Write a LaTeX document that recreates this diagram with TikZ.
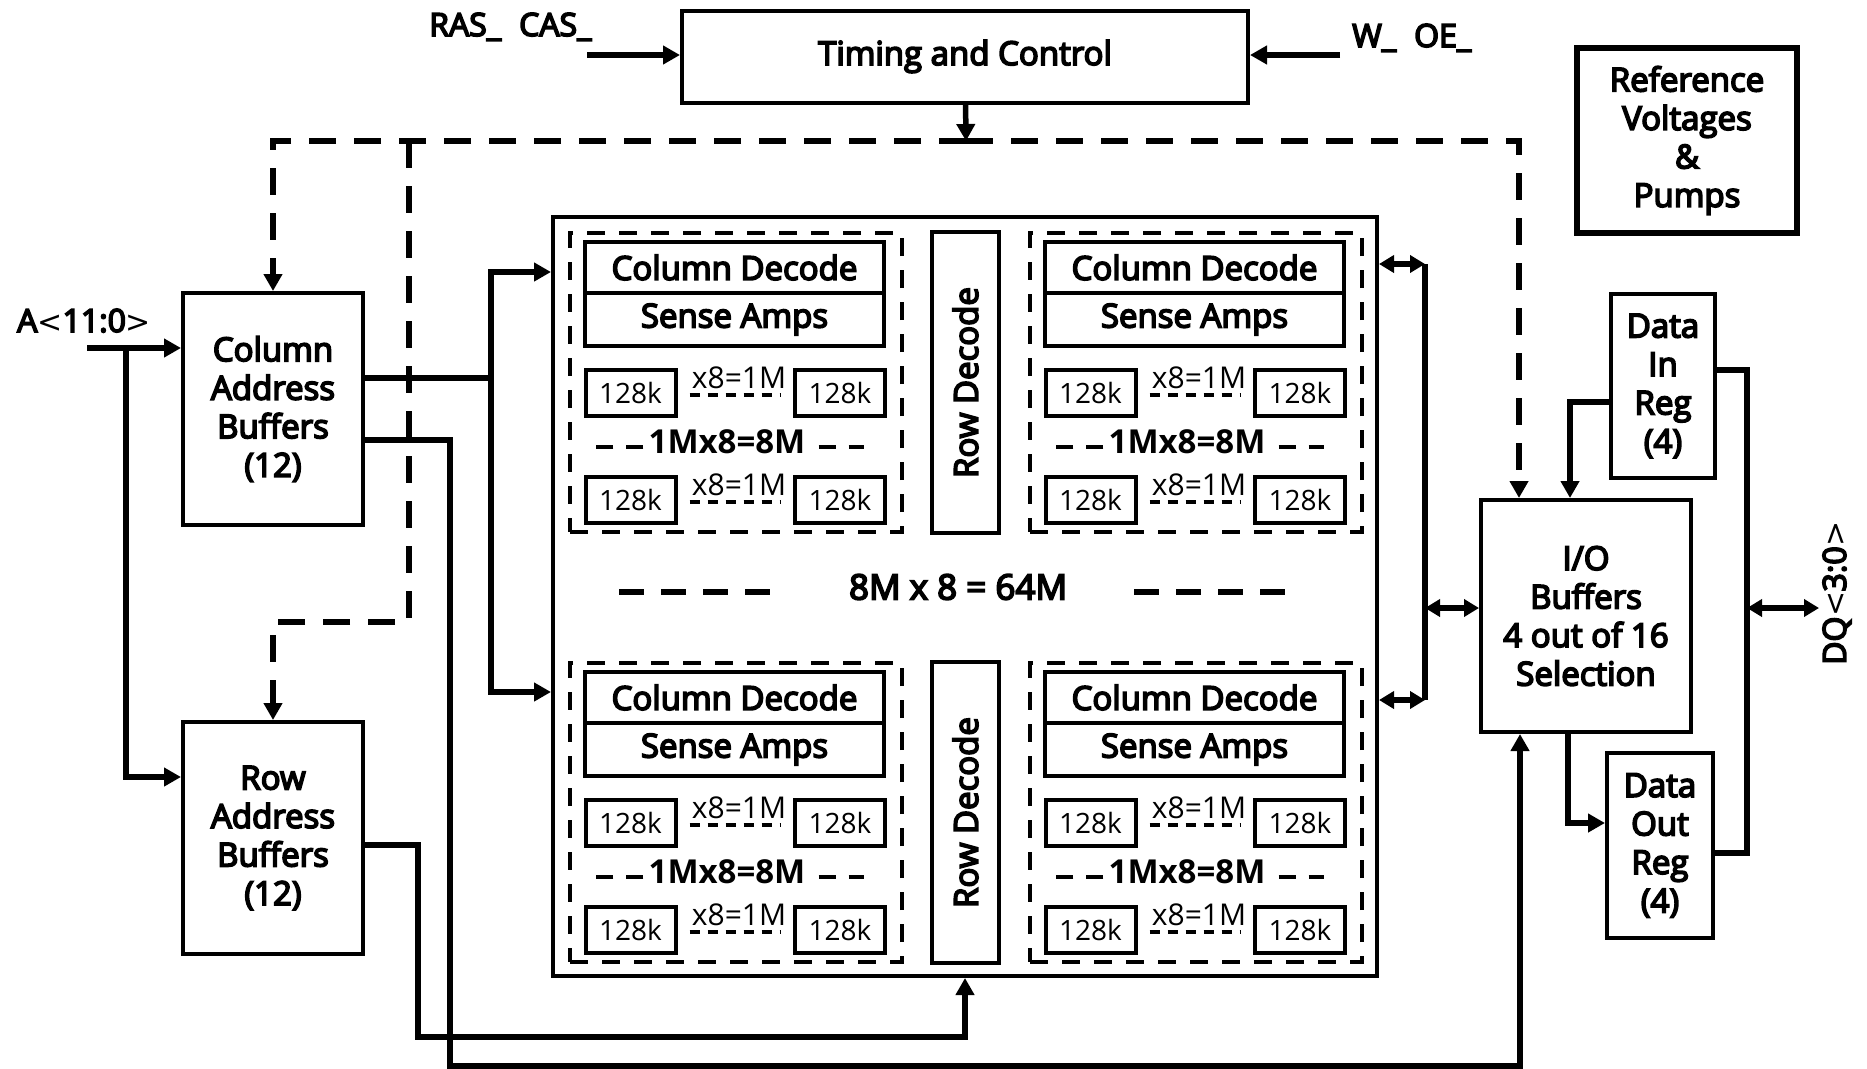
\documentclass[tikz,border=0pt]{standalone}
\usepackage{fontspec}
\setmainfont{Open Sans}
\newfontfamily\medsans{Open Sans}[FakeBold=5]
\newfontfamily\symsans{DejaVu Sans}
\usetikzlibrary{arrows.meta,positioning,calc}
\newcommand{\blkfont}{\medsans\fontsize{33}{38.5}\selectfont}
\newcommand{\sigfont}{\medsans\fontsize{32}{36}\selectfont}
\newcommand{\cellfont}{\fontsize{28}{32}\selectfont}
\newcommand{\tinyfont}{\fontsize{30}{34}\selectfont}
\newcommand{\mxfont}{\bfseries\fontsize{33}{38}\selectfont}
\newcommand{\lt}{{\symsans\fontsize{30}{34}\selectfont<}}
\newcommand{\gt}{{\symsans\fontsize{30}{34}\selectfont>}}

\begin{document}
\begin{tikzpicture}[x=1pt, y=-1pt,
  blk/.style={draw, line width=4pt, align=center, inner sep=0pt, font=\blkfont},
  cell/.style={draw, line width=4pt, inner sep=0pt, minimum width=90, minimum height=46, font=\cellfont},
  quad/.style={draw, line width=4.5pt, dash pattern=on 18pt off 14pt, minimum width=332, minimum height=299, inner sep=0pt},
  bus/.style={line width=5.5pt},
  arr/.style={bus, -{Triangle[length=17pt,width=18pt]}},
  ctl/.style={line width=6.5pt, dash pattern=on 27pt off 18pt, -{Triangle[length=17pt,width=18pt]}},
  bidir/.style={bus, {Triangle[length=15pt,width=17pt]}-{Triangle[length=15pt,width=17pt]}},
  celldash/.style={line width=4.5pt, dash pattern=on 10pt off 8pt, shorten <=12pt, shorten >=13pt},
  mxdash/.style={line width=4.5pt, dash pattern=on 17pt off 13pt},
  middash/.style={line width=6.5pt, dash pattern=on 25pt off 17pt},
  sig/.style={font=\sigfont, inner sep=0pt}]
\fill[white] (0,0) rectangle (1867,1068);
\useasboundingbox (0,0) rectangle (1867,1068);

% blocks
\node[blk, minimum width=566, minimum height=92] (timing) at (965,56.5) {Timing and Control};
\node[blk, line width=6pt, minimum width=220, minimum height=185] (refv) at (1687,140.5) {Reference\\Voltages\\\&\\Pumps};
\node[blk, minimum width=180, minimum height=232] (coladdr) at (273,409) {Column\\Address\\Buffers\\(12)};
\node[blk, minimum width=180, minimum height=232] (rowaddr) at (273,838) {Row\\Address\\Buffers\\(12)};
\node[blk, minimum width=210, minimum height=232] (iobuf) at (1586,616) {I/O\\Buffers\\4 out of 16\\Selection};
\node[blk, minimum width=104, minimum height=184] (datain) at (1663,386) {Data\\In\\Reg\\(4)};
\node[blk, minimum width=106, minimum height=185] (dataout) at (1660,845.5) {Data\\Out\\Reg\\(4)};

% memory array
\node[blk, minimum width=824, minimum height=759] (array) at (965,596.5) {};
\foreach \q/\dx/\dy in {a/0/0, b/460/0, c/0/430, d/460/430} {
  \node[quad] (quad-\q) at (736+\dx,382.5+\dy) {};
  \node[blk, minimum width=299, minimum height=51] (cd-\q) at (734.5+\dx,267.5+\dy) {Column Decode};
  \node[blk, minimum width=299, minimum height=53] (sa-\q) at (734.5+\dx,319.5+\dy) {Sense Amps};
  \foreach \r/\ry in {1/393, 2/500} {
    \node[cell] (cl\r-\q) at (630.5+\dx,\ry+\dy) {128k};
    \node[cell] (cr\r-\q) at (840+\dx,\ry+\dy) {128k};
    \draw[celldash] ([yshift=-2pt]cl\r-\q.east) -- ([yshift=-2pt]cr\r-\q.west);
    \node[font=\tinyfont, inner sep=0pt] at (739+\dx,\ry-15+\dy) {x8=1M};
  }
  \node[font=\mxfont, inner sep=0pt] (mx-\q) at (727+\dx,442+\dy) {1Mx8=8M};
  \draw[mxdash] ([xshift=-5pt,yshift=-5pt]mx-\q.west) -- ++(-47,0);
  \draw[mxdash] ([xshift=13pt,yshift=-5pt]mx-\q.east) -- ++(45,0);
}
\foreach \r/\dy in {1/0, 2/430}
  \node[blk, rotate=90, minimum width=301, minimum height=67] (rd-\r) at (965.5,382.5+\dy) {Row Decode};
\node[font=\blkfont\fontsize{35}{40}\selectfont, inner sep=0pt] (mid) at (958,587) {8M x 8 = 64M};
\draw[middash] ([xshift=-79pt,yshift=-5pt]mid.west) -- ++(-151,0);
\draw[middash] ([xshift=67pt,yshift=-5pt]mid.east) -- ++(151,0);

% signal labels
\node[sig, anchor=base west] (ras) at (429,36) {RAS\_\hspace{18pt}CAS\_};
\node[sig, anchor=base west] (woe) at (1352,47) {W\_\hspace{18pt}OE\_};
\node[sig, anchor=base west] (alab) at (17,332) {A\lt11:0\gt};
\node[sig, rotate=90] (dq) at (1837,593) {DQ\lt3:0\gt};

% control inputs
\coordinate (rasin) at (587,55);
\coordinate (woein) at (1340,55);
\draw[arr] (rasin) -- (rasin -| timing.west);
\draw[arr] (woein) -- (woein -| timing.east);

% control bus (dashed)
\coordinate (ctlbus) at (966,141);
\coordinate (rbr) at (409,141);
\coordinate (ioctl) at ([xshift=40pt]iobuf.north west);
\draw[arr] (timing) -- (ctlbus);
\draw[ctl] (ctlbus) -| (coladdr.north);
\draw[ctl] (ctlbus) -| (ioctl);
\draw[ctl] (rbr) -- ++(0,481) -| (rowaddr.north);

% address inputs
\coordinate (ain) at (87,348);
\coordinate (aj) at (126,348);
\draw[arr, line width=6.5pt] (ain) -- (ain -| coladdr.west);
\draw[arr] (aj) |- ([yshift=61pt]rowaddr.west);

% column address out
\coordinate (cj) at (491,378);
\coordinate (iolow) at (450,1066);
\draw[bus] ([yshift=31pt]coladdr.east) -- (cj);
\draw[arr] (cj) |- ([yshift=324.5pt]array.west);
\draw[arr] (cj) |- ([yshift=-95.5pt]array.west);
\draw[arr] ([yshift=-31pt]coladdr.east) -| (iolow) -| ([xshift=-66pt]iobuf.south);

% row address out
\coordinate (rowlow) at (418,1037);
\draw[arr] ([yshift=-7pt]rowaddr.east) -| (rowlow) -| (array.south);

% data path
\coordinate (rbtop) at (1425,264);
\coordinate (rbbot) at (1425,700);
\coordinate (ioin) at ([yshift=8pt]iobuf.west);
\draw[bus] (rbtop) -- (rbbot);
\draw[bidir] (array.east |- rbtop) -- (rbtop);
\draw[bidir] (array.east |- rbbot) -- (rbbot);
\draw[bidir] (rbtop |- ioin) -- (ioin);
\draw[arr] ([yshift=-16pt]datain.west) -| ([xshift=-16pt]iobuf.north);
\draw[arr] ([xshift=-18pt]iobuf.south) |- ([yshift=22.5pt]dataout.west);
\coordinate (dqj) at (1747,608);
\coordinate (dqout) at (1819,608);
\draw[bus] ([yshift=16pt]datain.east) -| (dqj) |- ([yshift=-7.5pt]dataout.east);
\draw[bidir] (dqj) -- (dqout);
\end{tikzpicture}
\end{document}
